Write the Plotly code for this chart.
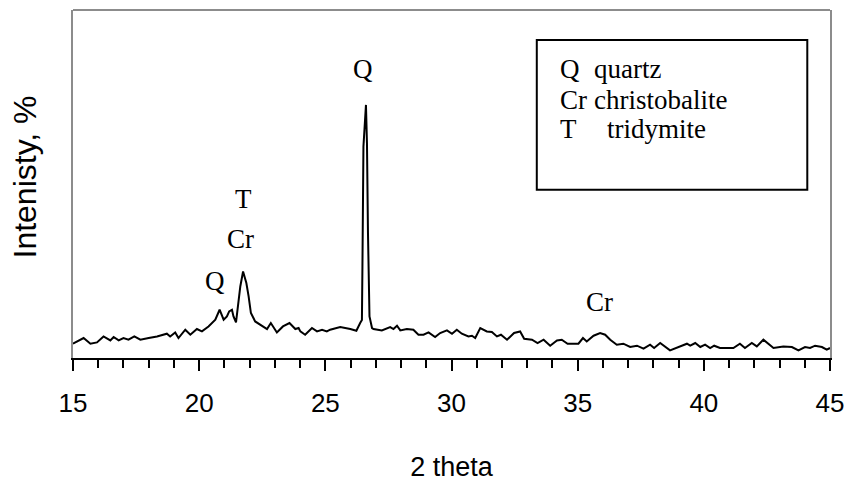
import plotly.graph_objects as go

# XRD pattern: diffraction angle (2 theta, degrees) and relative intensity
two_theta = [
    15.00, 15.42, 15.69, 15.95, 16.21, 16.48, 16.61, 16.81, 17.00, 17.20,
    17.43, 17.67, 18.00, 18.33, 18.72, 18.85, 19.05, 19.18, 19.45, 19.65,
    19.91, 20.11, 20.37, 20.55, 20.64, 20.81, 20.97, 21.10, 21.19, 21.30,
    21.36, 21.46, 21.56, 21.63, 21.74, 21.87, 21.96, 22.05, 22.22, 22.42,
    22.69, 22.84, 23.08, 23.32, 23.58, 23.81, 23.94, 24.01, 24.20, 24.47,
    24.67, 24.87, 25.06, 25.19, 25.59, 25.99, 26.23, 26.38, 26.45, 26.47,
    26.51, 26.61, 26.65, 26.69, 26.75, 26.85, 26.91, 27.24, 27.57, 27.70,
    27.84, 27.97, 28.23, 28.49, 28.69, 28.89, 29.09, 29.35, 29.55, 29.82,
    30.02, 30.21, 30.41, 30.67, 30.81, 30.94, 31.14, 31.40, 31.60, 31.80,
    31.96, 32.20, 32.48, 32.72, 32.88, 33.19, 33.41, 33.65, 33.91, 34.18,
    34.37, 34.60, 35.03, 35.21, 35.36, 35.63, 35.89, 36.09, 36.29, 36.55,
    36.81, 37.08, 37.35, 37.61, 37.87, 38.03, 38.27, 38.66, 38.93, 39.33,
    39.46, 39.66, 39.86, 40.05, 40.25, 40.41, 40.64, 41.17, 41.43, 41.63,
    41.90, 42.10, 42.36, 42.76, 43.15, 43.49, 43.75, 44.01, 44.21, 44.41,
    44.68, 44.87, 45.00,
]
intensity = [
    14.3, 20.0, 14.3, 15.6, 21.6, 17.6, 21.0, 17.6, 20.0, 18.3,
    21.6, 18.3, 20.0, 21.6, 24.3, 21.6, 25.6, 20.0, 28.3, 23.3,
    29.0, 26.6, 31.6, 36.6, 38.3, 48.3, 38.3, 41.6, 46.6, 48.3,
    41.6, 35.6, 55.0, 71.6, 86.6, 75.0, 61.6, 45.0, 36.6, 33.3,
    29.0, 35.0, 25.6, 31.6, 35.0, 29.0, 30.0, 26.6, 23.3, 30.0,
    26.6, 28.3, 26.6, 28.3, 31.0, 29.0, 27.3, 35.0, 38.0, 91.6,
    211.6, 253.3, 215.0, 125.0, 41.6, 30.0, 29.0, 27.6, 31.0, 29.0,
    32.3, 27.6, 29.0, 28.3, 23.3, 23.3, 25.6, 21.0, 25.0, 27.6,
    24.3, 28.3, 24.3, 21.6, 22.3, 20.0, 30.0, 26.6, 26.0, 21.6,
    23.3, 18.3, 25.0, 26.6, 19.3, 18.3, 15.0, 18.3, 12.3, 17.6,
    18.3, 14.3, 14.3, 20.0, 16.6, 22.3, 25.0, 23.3, 18.3, 13.3,
    14.3, 11.0, 12.3, 9.3, 13.3, 10.0, 15.0, 7.6, 10.0, 14.3,
    12.3, 15.0, 11.0, 13.3, 10.0, 12.3, 10.0, 10.0, 14.3, 10.0,
    15.0, 11.6, 18.3, 10.0, 11.6, 11.0, 7.6, 11.0, 10.0, 12.3,
    11.0, 8.3, 10.0,
]

# Phase labels placed above the peaks
peak_labels = ["Q", "T", "Cr", "Q", "Cr"]
peak_x = [26.51, 21.76, 21.63, 20.63, 35.85]
peak_y = [289, 159, 119, 77, 56]

# Key for the phase symbols
key_symbols = ["Q", "Cr", "T"]
key_names = ["quartz", "christobalite", "tridymite"]

x_ticks = [15, 20, 25, 30, 35, 40, 45]

SANS = "Liberation Sans, Arial, sans-serif"
SERIF = "Liberation Serif, Times New Roman, serif"

W, H = 848, 489
M_L, M_R, M_T, M_B = 73, 18, 10, 131
plot_w = W - M_L - M_R
plot_h = H - M_T - M_B

fig = go.Figure()
fig.add_trace(go.Scatter(
    x=two_theta, y=intensity, mode="lines",
    line=dict(color="black", width=2),
    showlegend=False, hoverinfo="skip",
))

annotations = []
for t, xv, yv in zip(peak_labels, peak_x, peak_y):
    annotations.append(dict(
        x=xv, y=yv, xref="x", yref="y", text=t, showarrow=False,
        font=dict(family=SERIF, size=27, color="black"),
        xanchor="center", yanchor="middle",
    ))

# key box contents
key_x_sym = 34.22
key_x_name = [35.58, 35.58, 36.08]
key_y = [289, 258, 229]
for s, n, xn, yv in zip(key_symbols, key_names, key_x_name, key_y):
    annotations.append(dict(
        x=key_x_sym, y=yv, xref="x", yref="y", text=s, showarrow=False,
        font=dict(family=SERIF, size=27, color="black"),
        xanchor="left", yanchor="middle",
    ))
    annotations.append(dict(
        x=xn, y=yv, xref="x", yref="y", text=n, showarrow=False,
        font=dict(family=SERIF, size=27, color="black"),
        xanchor="left", yanchor="middle",
    ))

# y-axis title, positioned in paper fractions from pixel offsets
annotations.append(dict(
    x=(24 - M_L) / plot_w, y=(H - M_B - 177.5) / plot_h,
    xref="paper", yref="paper", text="Intenisty, %",
    showarrow=False, textangle=-90,
    font=dict(family=SANS, size=32, color="black"),
    xanchor="center", yanchor="middle",
))

shapes = [
    # key frame
    dict(type="rect", xref="x", yref="y", x0=33.38, x1=44.10, y0=168.3, y1=318.3,
         line=dict(color="black", width=2), fillcolor="rgba(0,0,0,0)"),
    # top border of the plot area
    dict(type="line", xref="paper", yref="paper", x0=0, x1=1, y0=1, y1=1,
         line=dict(color="#8c8c8c", width=2)),
]

fig.update_layout(
    width=W, height=H,
    margin=dict(l=M_L, r=M_R, t=M_T, b=M_B, autoexpand=False),
    paper_bgcolor="white", plot_bgcolor="white",
    font=dict(family=SANS, color="black"),
    annotations=annotations,
    shapes=shapes,
    xaxis=dict(
        range=[15, 45], tickvals=x_ticks, ticktext=[str(v) for v in x_ticks],
        showgrid=False, zeroline=False, automargin=False,
        showline=True, linecolor="black", linewidth=2,
        ticks="outside", ticklen=11, tickwidth=2, tickcolor="black",
        tickfont=dict(family=SANS, size=26, color="black"),
        ticklabelstandoff=10,
        minor=dict(dtick=1, tick0=15, ticks="outside", ticklen=8,
                   tickwidth=2, tickcolor="black", showgrid=False),
        title=dict(text="2 theta", font=dict(family=SANS, size=27, color="black"),
                   standoff=40),
    ),
    yaxis=dict(
        range=[0, 348.3], showgrid=False, zeroline=False, automargin=False,
        showticklabels=False, ticks="",
        showline=True, linecolor="#8c8c8c", linewidth=2, mirror=True,
    ),
)

fig.write_html("out.html")
